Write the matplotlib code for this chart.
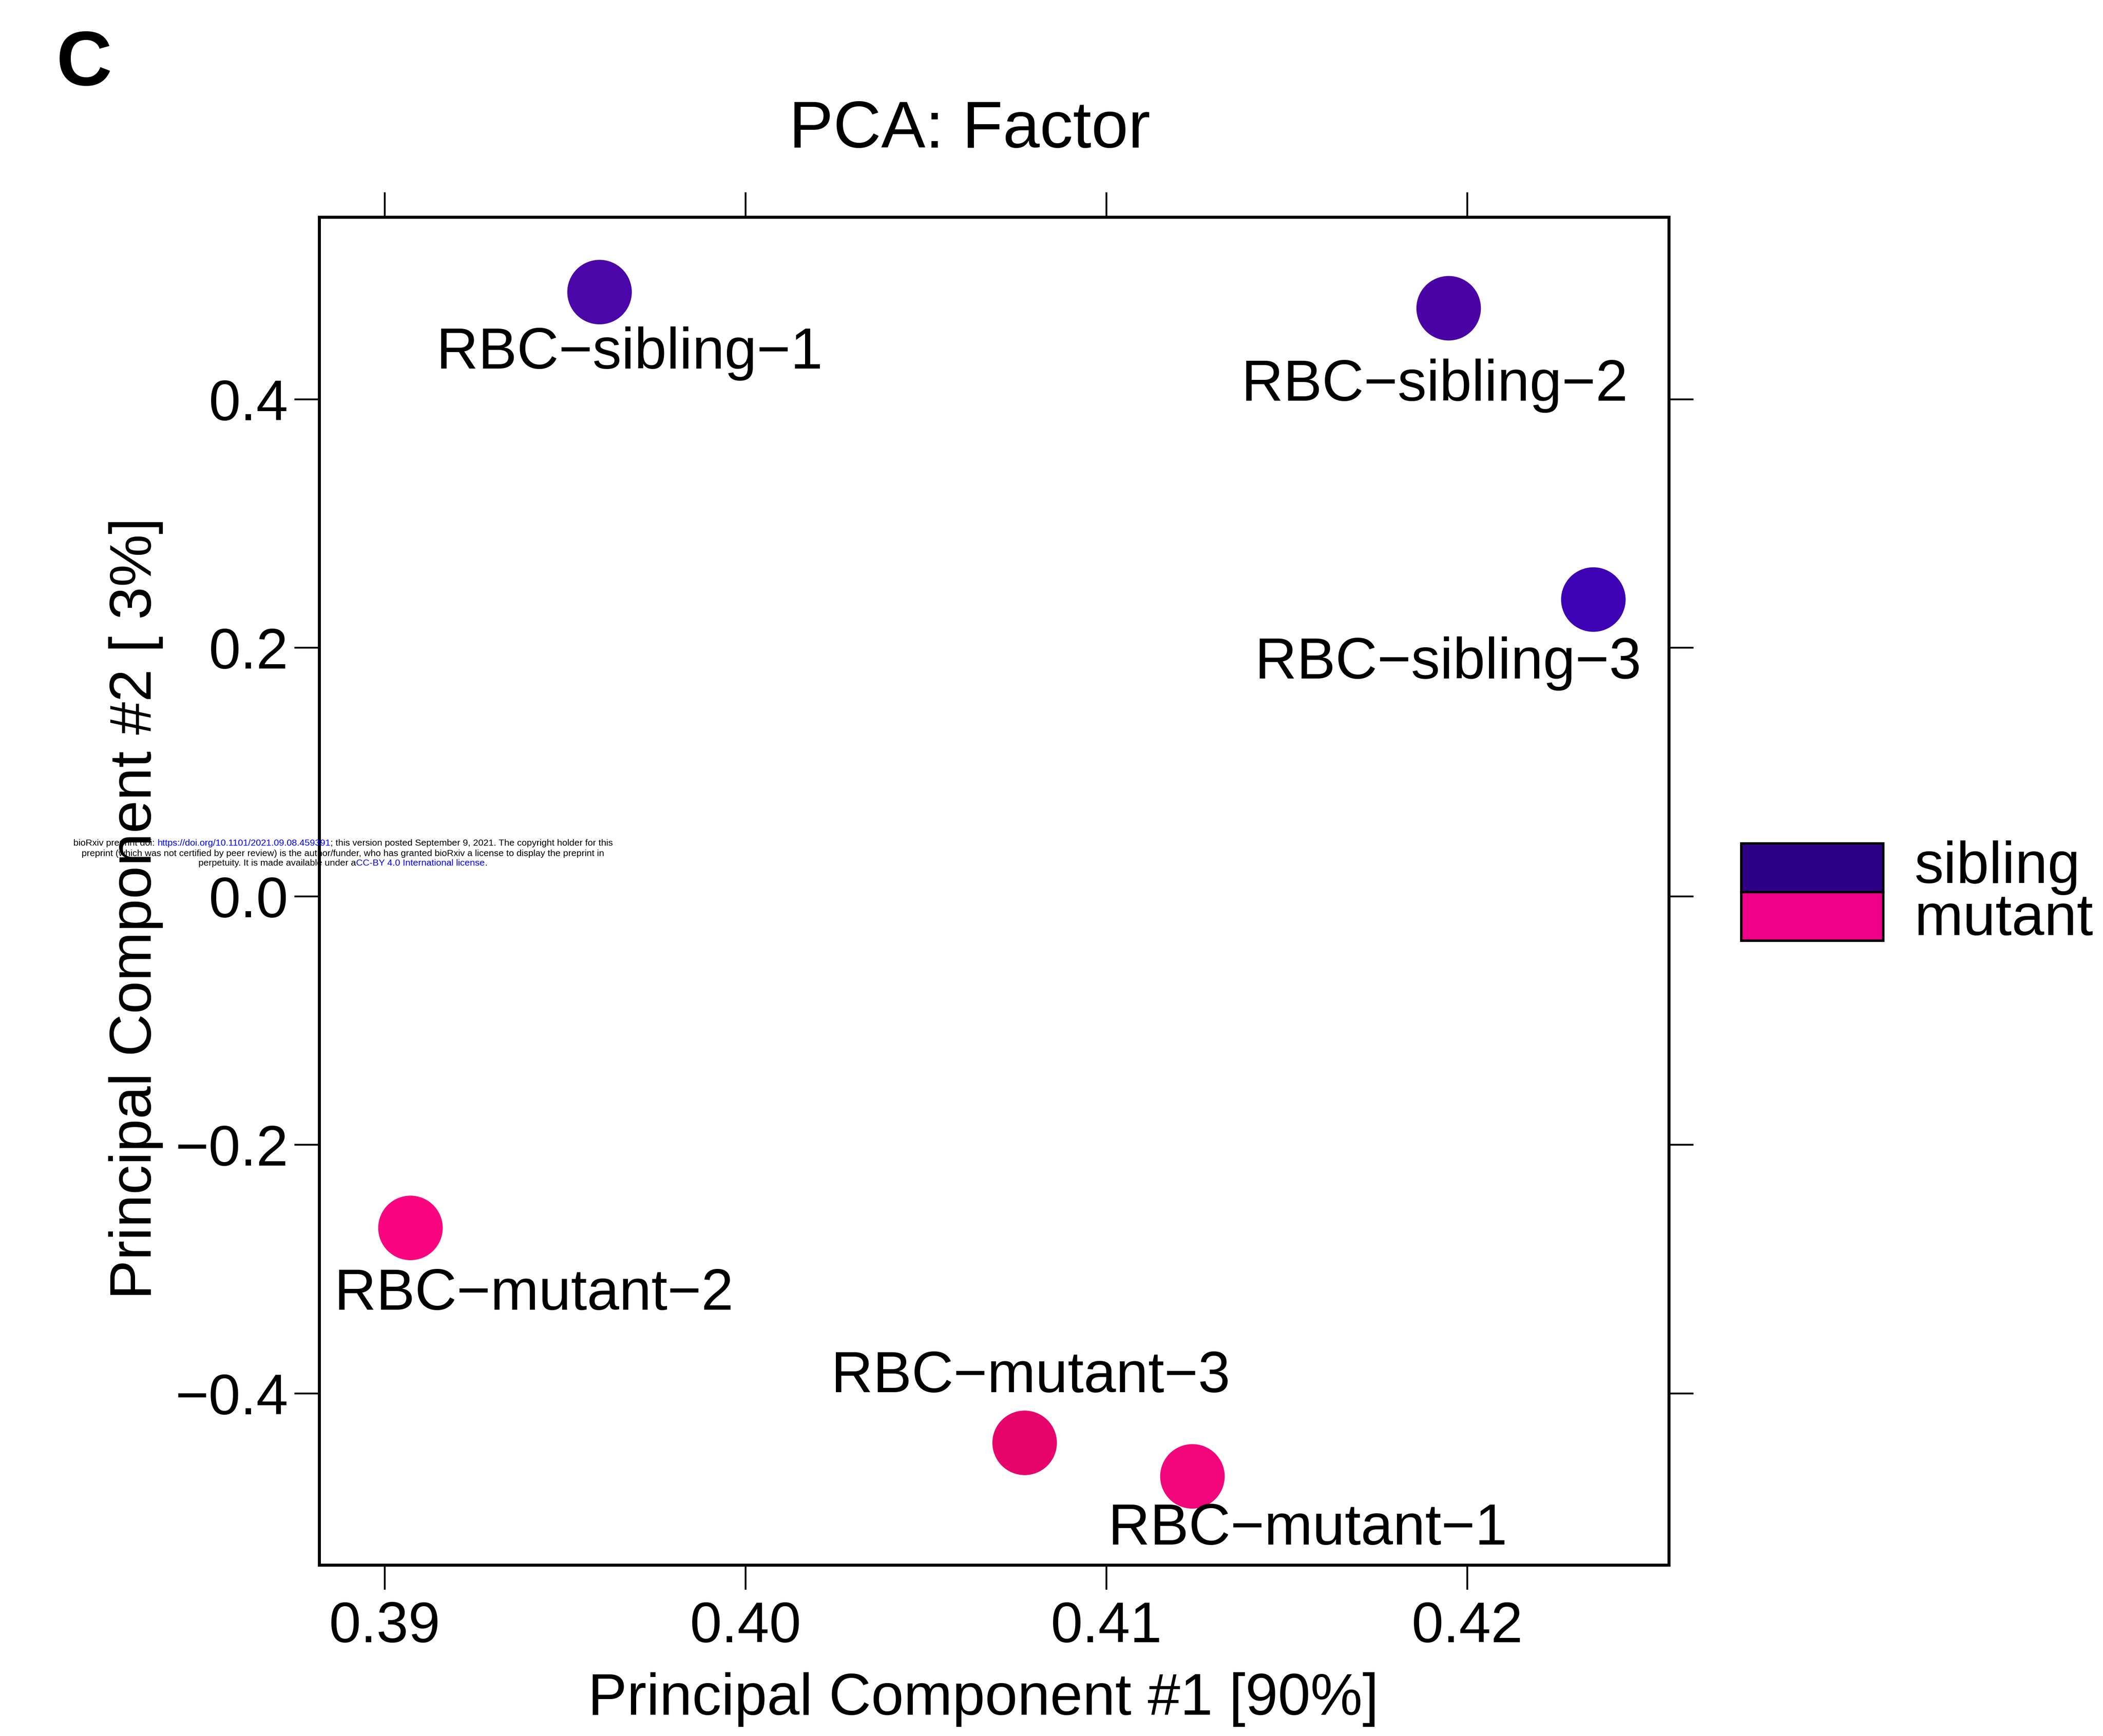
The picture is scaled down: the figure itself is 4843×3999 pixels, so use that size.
import matplotlib
matplotlib.use('Agg')
import matplotlib.pyplot as plt
from matplotlib.patches import Rectangle

plt.rcParams['font.family'] = ['Liberation Sans', 'DejaVu Sans']

# PCA scores
samples = ['RBC\u2212sibling\u22121', 'RBC\u2212sibling\u22122', 'RBC\u2212sibling\u22123',
           'RBC\u2212mutant\u22122', 'RBC\u2212mutant\u22123', 'RBC\u2212mutant\u22121']
pc1 = [0.39595, 0.41948, 0.42349, 0.39071, 0.40773, 0.41238]
pc2 = [0.4864, 0.4734, 0.2389, -0.2669, -0.4399, -0.4669]
point_colors = ['#4A06A8', '#4A04A6', '#3D02B4', '#FA0480', '#E6046C', '#F2047A']

groups = ['sibling', 'mutant']
group_colors = ['#2E0088', '#EE0088']

xticks = [0.39, 0.40, 0.41, 0.42]
xticklabels = ['0.39', '0.40', '0.41', '0.42']
yticks = [0.4, 0.2, 0.0, -0.2, -0.4]
yticklabels = ['0.4', '0.2', '0.0', '\u22120.2', '\u22120.4']

# label offsets in points (dx, dy) from each point to the label baseline centre
label_offsets = [(50, -127), (-23, -153), (-241, -131), (205, -136), (10, 84), (191, -113)]

W, H = 4843, 3999
fig = plt.figure(figsize=(W / 100, H / 100), dpi=100)
ax = fig.add_axes([735 / W, 1 - 3605 / H, (3843 - 735) / W, (3605 - 500) / H])

ax.scatter(pc1, pc2, s=107 ** 2, c=point_colors, linewidths=0, zorder=3)
for name, x, y, (dx, dy) in zip(samples, pc1, pc2, label_offsets):
    ax.annotate(name, (x, y), xytext=(dx, dy), textcoords='offset points',
                ha='center', va='baseline', fontsize=96, zorder=4)

ax.set_xlim(0.38818, 0.42558)
ax.set_ylim(-0.5382, 0.5468)
ax.set_xticks(xticks)
ax.set_xticklabels(xticklabels)
ax.set_yticks(yticks)
ax.set_yticklabels(yticklabels)
ax.tick_params(direction='out', length=41, width=3, labelsize=95, pad=18,
               top=True, right=True, labeltop=False, labelright=False)
ax.tick_params(axis='y', pad=10)
for sp in ax.spines.values():
    sp.set_linewidth(5)

ax.set_xlabel('Principal Component #1 [90%]', fontsize=97, labelpad=30)
ax.xaxis.label.set_x(0.492)
ax.set_ylabel('Principal Component #2 [ 3%]', fontsize=98, labelpad=20)
ax.yaxis.label.set_y(0.487)

fig.text(2233 / W, 1 - 340 / H, 'PCA: Factor', fontsize=110, ha='center', va='baseline')
fig.text(130 / W, 1 - 196 / H, 'C', fontsize=128, fontweight='bold', ha='left', va='baseline')

# legend boxes
box_x, box_w, box_h = 4010, 327, 112
for i, (g, c) in enumerate(zip(groups, group_colors)):
    top = 1943 + i * box_h
    fig.add_artist(Rectangle((box_x / W, 1 - (top + box_h) / H), box_w / W, box_h / H,
                             transform=fig.transFigure, facecolor=c,
                             edgecolor='black', linewidth=4))
    fig.text(4408 / W, 1 - (top + box_h / 2 + 8 * i) / H, g, fontsize=97,
             ha='left', va='center')

# preprint notice
notice = [
    [('bioRxiv preprint doi: ', 'black'),
     ('https://doi.org/10.1101/2021.09.08.459391', 'blue'),
     ('; this version posted September 9, 2021. The copyright holder for this', 'black')],
    [('preprint (which was not certified by peer review) is the author/funder, who has granted '
      'bioRxiv a license to display the preprint in', 'black')],
    [('perpetuity. It is made available under a', 'black'),
     ('CC-BY 4.0 International license', 'blue'),
     ('.', 'black')],
]
renderer = fig.canvas.get_renderer()


def text_width(s, size):
    t = fig.text(0, 0, s + '|', fontsize=size)
    w = t.get_window_extent(renderer).width
    t.remove()
    t = fig.text(0, 0, '|', fontsize=size)
    w -= t.get_window_extent(renderer).width
    t.remove()
    return w


note_size = 15.3
cx = 790
for row, y in zip(notice, [1943, 1966, 1988]):
    full = ''.join(s for s, _ in row)
    total = text_width(full, note_size)
    x = cx - total / 2
    prefix = ''
    for s, c in row:
        x0 = x + text_width(prefix, note_size) if prefix else x
        fig.text(x0 / W, 1 - y / H, s, fontsize=note_size, color=c, ha='left', va='center', zorder=10)
        prefix += s

fig.savefig('out.png', dpi=100)
